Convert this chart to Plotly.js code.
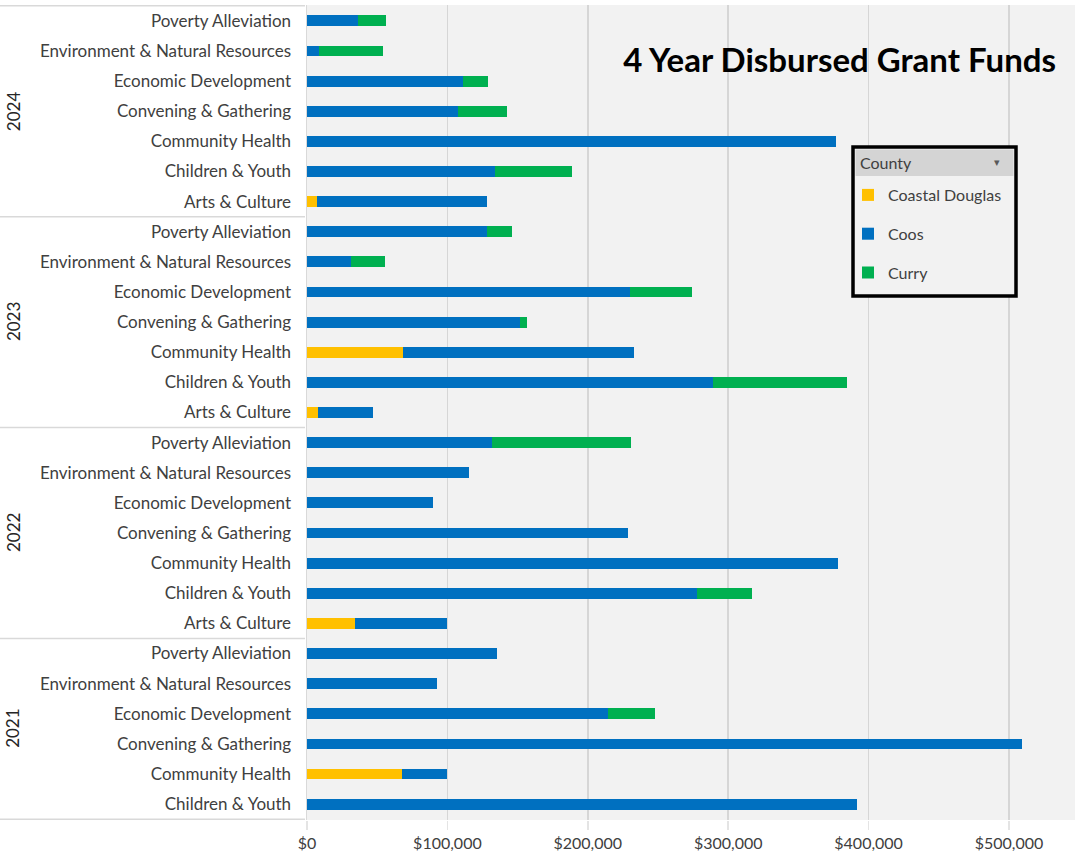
<!DOCTYPE html>
<html>
<head>
<meta charset="utf-8">
<script src="https://cdn.plot.ly/plotly-3.0.1.min.js"></script>
<style>
  html, body { margin: 0; padding: 0; background: #ffffff; }
  #chart { width: 1075px; height: 856px; }
</style>
</head>
<body>
<div id="chart"></div>
<script>
// ---- Data (rows listed bottom to top) ----
const rowYears = [
  '2021','2021','2021','2021','2021','2021',
  '2022','2022','2022','2022','2022','2022','2022',
  '2023','2023','2023','2023','2023','2023','2023',
  '2024','2024','2024','2024','2024','2024','2024'
];
const rowCategories = [
  'Children & Youth','Community Health','Convening & Gathering','Economic Development','Environment & Natural Resources','Poverty Alleviation',
  'Arts & Culture','Children & Youth','Community Health','Convening & Gathering','Economic Development','Environment & Natural Resources','Poverty Alleviation',
  'Arts & Culture','Children & Youth','Community Health','Convening & Gathering','Economic Development','Environment & Natural Resources','Poverty Alleviation',
  'Arts & Culture','Children & Youth','Community Health','Convening & Gathering','Economic Development','Environment & Natural Resources','Poverty Alleviation'
];
const coastalDouglas = [
  0, 67900, 0, 0, 0, 0,
  34500, 0, 0, 0, 0, 0, 0,
  7700, 0, 68100, 0, 0, 0, 0,
  6900, 0, 0, 0, 0, 0, 0
];
const coos = [
  391800, 31700, 509000, 214600, 92900, 135300,
  65400, 277500, 378100, 228700, 89700, 115200, 131700,
  39500, 289000, 165000, 151500, 229700, 31100, 128200,
  121600, 134000, 377000, 107600, 111000, 8800, 36100
];
const curry = [
  0, 0, 0, 33200, 0, 0,
  0, 39700, 0, 0, 0, 0, 98800,
  0, 95500, 0, 5200, 44600, 24500, 17800,
  0, 54600, 0, 35000, 17800, 45200, 20000
];
const years = ['2021','2022','2023','2024'];
const seriesNames = ['Coastal Douglas','Coos','Curry'];
const xTickValues = [0, 100000, 200000, 300000, 400000, 500000];
const xTickLabels = ['$0', '$100,000', '$200,000', '$300,000', '$400,000', '$500,000'];
const chartTitle = '4 Year Disbursed Grant Funds';
const legendTitle = 'County';

// ---- Build ----
const rowKeys = rowYears.map((y, i) => y + ' | ' + rowCategories[i]);
const colors = ['#FFC000', '#0070C0', '#00B050'];
const seriesValues = [coastalDouglas, coos, curry];

const traces = seriesNames.map((name, k) => ({
  type: 'bar',
  orientation: 'h',
  name: name,
  legendgroup: name,
  x: seriesValues[k],
  y: rowKeys,
  marker: { color: colors[k], line: { width: 0 } },
  hoverinfo: 'name+x'
}));

// plot geometry
const L = 307, R = 0, T = 5, B = 36, W = 1075, H = 856;
const pw = W - L - R, ph = H - T - B;
const px2x = px => (px - L) / pw;
const py2y = py => 1 - (py - T) / ph;

const annotations = [];
const shapes = [];

// year labels and group separators
years.forEach(yr => {
  const idx = rowYears.map((y, i) => y === yr ? i : -1).filter(i => i >= 0);
  const mid = (idx[0] + idx[idx.length - 1]) / 2;
  annotations.push({
    xref: 'paper', yref: 'y', x: px2x(13), y: mid,
    text: yr, showarrow: false, textangle: -90,
    xanchor: 'center', yanchor: 'middle',
    font: { family: 'Lato, sans-serif', size: 17, color: '#262626' }
  });
});
const boundaries = [-0.5];
for (let i = 1; i < rowYears.length; i++) {
  if (rowYears[i] !== rowYears[i - 1]) boundaries.push(i - 0.5);
}
boundaries.push(rowYears.length - 0.5);
boundaries.forEach(b => {
  shapes.push({
    type: 'line', xref: 'paper', yref: 'y',
    x0: px2x(0), x1: px2x(305), y0: b, y1: b,
    line: { color: '#d9d9d9', width: 1.5 }, layer: 'above'
  });
});

// legend box
shapes.push({
  type: 'rect', xref: 'paper', yref: 'paper',
  x0: px2x(853), x1: px2x(1016), y0: py2y(296), y1: py2y(147),
  fillcolor: '#f2f2f2', line: { color: '#000000', width: 3.5 }, layer: 'above'
});
shapes.push({
  type: 'rect', xref: 'paper', yref: 'paper',
  x0: px2x(855.5), x1: px2x(1013.5), y0: py2y(176), y1: py2y(149.5),
  fillcolor: '#d4d4d4', line: { width: 0 }, layer: 'above'
});
annotations.push({
  xref: 'paper', yref: 'paper', x: px2x(858), y: py2y(162),
  text: legendTitle, showarrow: false, xanchor: 'left', yanchor: 'middle',
  font: { family: 'Lato, sans-serif', size: 16, color: '#404040' }
});
annotations.push({
  xref: 'paper', yref: 'paper', x: px2x(997), y: py2y(162),
  text: '▾', showarrow: false, xanchor: 'center', yanchor: 'middle',
  font: { family: 'DejaVu Sans, sans-serif', size: 11, color: '#595959' }
});

const layout = {
  width: W, height: H,
  margin: { l: L, r: R, t: T, b: B, pad: 0 },
  paper_bgcolor: '#ffffff',
  plot_bgcolor: '#f2f2f2',
  barmode: 'stack',
  bargap: 0.64,
  showlegend: true,
  font: { family: 'Lato, sans-serif', size: 16, color: '#404040' },
  title: {
    text: chartTitle,
    xref: 'container', yref: 'container',
    x: 1056 / W, xanchor: 'right',
    y: 1 - 60 / H, yanchor: 'middle',
    font: { family: 'Lato, sans-serif', size: 33, color: '#000000', weight: 'bold' }
  },
  xaxis: {
    range: [0, 547000],
    tickmode: 'array',
    tickvals: xTickValues,
    ticktext: xTickLabels,
    showgrid: true,
    gridcolor: '#d6d6d6',
    gridwidth: 1.5,
    zeroline: false,
    showline: false,
    ticks: 'outside',
    ticklen: 9,
    tickwidth: 1.5,
    tickcolor: '#e4e4e4',
    tickfont: { family: 'Lato, sans-serif', size: 16, color: '#404040' },
    fixedrange: true
  },
  yaxis: {
    type: 'category',
    categoryorder: 'array',
    categoryarray: rowKeys,
    tickvals: rowKeys,
    ticktext: rowCategories,
    showgrid: false,
    zeroline: false,
    showline: true,
    linecolor: '#d9d9d9',
    linewidth: 1.5,
    ticks: 'outside',
    ticklen: 11,
    tickcolor: 'rgba(0,0,0,0)',
    tickfont: { family: 'Lato, sans-serif', size: 17, color: '#404040' },
    fixedrange: true
  },
  legend: {
    x: px2x(848), y: py2y(178),
    xanchor: 'left', yanchor: 'top',
    bgcolor: 'rgba(0,0,0,0)',
    borderwidth: 0,
    traceorder: 'grouped',
    tracegroupgap: 15,
    itemwidth: 30,
    font: { family: 'Lato, sans-serif', size: 16, color: '#404040' }
  },
  shapes: shapes,
  annotations: annotations
};

Plotly.newPlot('chart', traces, layout, { displayModeBar: false, staticPlot: true });
</script>
</body>
</html>
